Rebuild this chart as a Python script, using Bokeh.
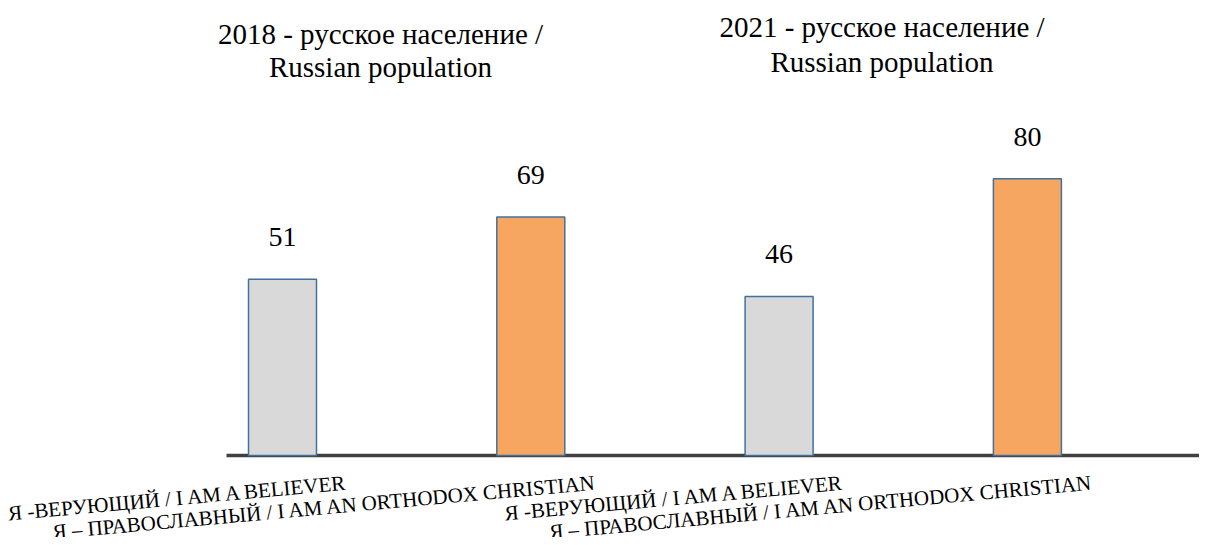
from bokeh.plotting import figure
from bokeh.models import Range1d
from bokeh.core.properties import value
from bokeh.embed import file_html
from bokeh.resources import INLINE
import math

# ---- data ----
categories = [
    "Я -ВЕРУЮЩИЙ / I AM A BELIEVER",
    "Я – ПРАВОСЛАВНЫЙ / I AM AN ORTHODOX CHRISTIAN",
    "Я -ВЕРУЮЩИЙ / I AM A BELIEVER",
    "Я – ПРАВОСЛАВНЫЙ / I AM AN ORTHODOX CHRISTIAN",
]
values = [51, 69, 46, 80]
value_labels = ["51", "69", "46", "80"]
title_line1 = ["2018 - русское население /", "2021 - русское население /"]
title_line2 = ["Russian population", "Russian population"]

# ---- layout (pixels) ----
W, H = 1199, 537
X0, DX = 282.0, 248.3      # canvas x of category 0 and spacing
BASE, PY = 455.0, 3.458    # canvas y of zero and px per unit
TXT_SHIFT = 9              # text baseline correction (px up)

def px_x(cx):
    return (cx - X0) / DX

def px_y(cy):
    return (BASE - cy) / PY

FONT = value("Liberation Serif")
idx = list(range(len(values)))
fills = ["#D9D9D9", "#F7A661", "#D9D9D9", "#F7A661"]

p = figure(width=W, height=H, output_backend="svg", toolbar_location=None,
           x_axis_type=None, y_axis_type=None,
           x_range=Range1d(px_x(0), px_x(W)), y_range=Range1d(px_y(H), px_y(0)),
           min_border=0, min_border_left=0, min_border_right=0,
           min_border_top=0, min_border_bottom=0)
p.outline_line_color = None
p.grid.visible = False
p.background_fill_color = "white"
p.border_fill_color = "white"

# axis line
p.segment(x0=[px_x(226)], y0=[0], x1=[px_x(W + 5)], y1=[0], line_color="#404040", line_width=3.3)

p.vbar(x=idx, top=values, bottom=0, width=68 / DX, fill_color=fills, line_color="#41719C",
       line_width=1.5)

# value labels
p.text(x=idx, y=[v + (33 + TXT_SHIFT) / PY for v in values], text=value_labels, text_font=FONT,
       text_font_size="28px", text_align="center", text_baseline="alphabetic", text_color="#000000")

# category labels (rotated)
p.text(x=[i + 66 / DX for i in idx], y=[px_y(BASE + 36 - TXT_SHIFT)] * len(idx), text=categories,
       text_font=FONT, text_font_size="21px", text_align="right", text_baseline="alphabetic",
       angle=math.radians(5.2), text_color="#000000")

# titles
title_cx = [px_x(380), px_x(881.5)]
p.text(x=title_cx, y=[px_y(42 - TXT_SHIFT), px_y(35 - TXT_SHIFT)], text=title_line1, text_font=FONT,
       text_font_size="29px", text_align="center", text_baseline="alphabetic", text_color="#000000")
p.text(x=title_cx, y=[px_y(75 - TXT_SHIFT), px_y(70 - TXT_SHIFT)], text=title_line2, text_font=FONT,
       text_font_size="29px", text_align="center", text_baseline="alphabetic", text_color="#000000")

open("out.html", "w").write(file_html(p, INLINE))
